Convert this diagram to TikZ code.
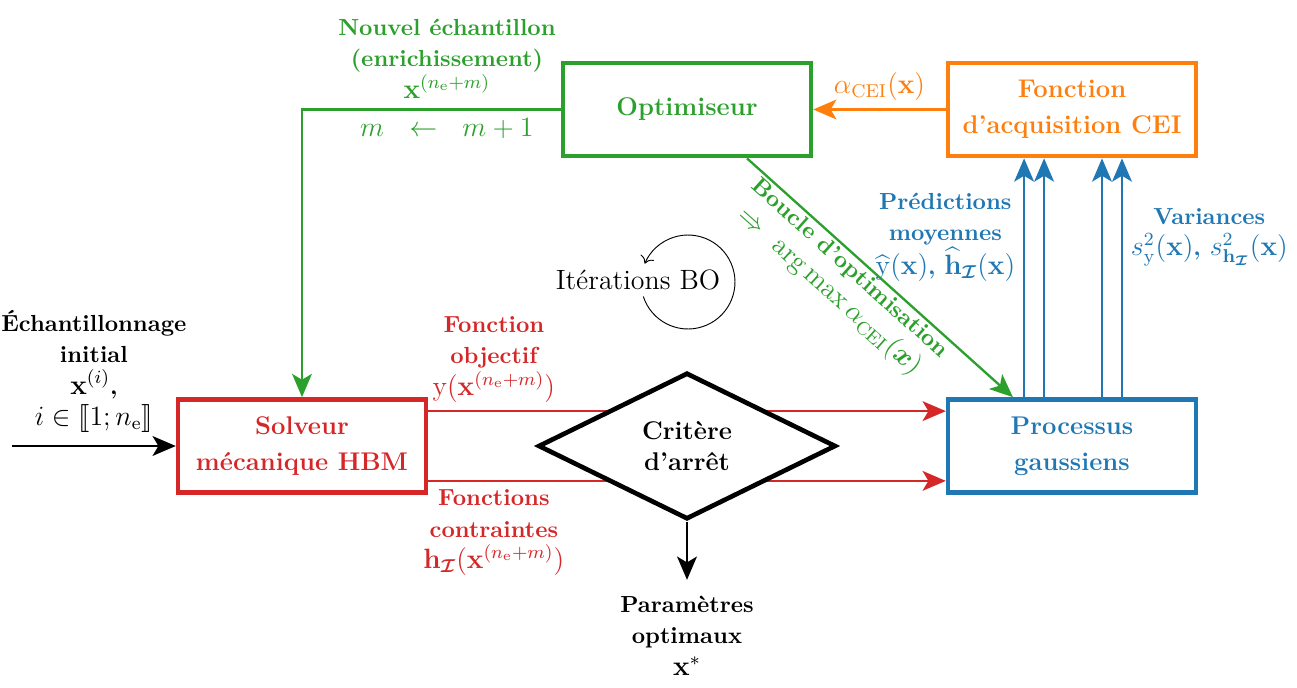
\documentclass[tikz,border=0pt]{standalone}
\usepackage{amsmath,amssymb}
\usepackage{stmaryrd}
\usepackage{tikz}
\usetikzlibrary{arrows.meta,shapes.geometric}

\definecolor{cvert}{HTML}{2CA02C}
\definecolor{corange}{HTML}{FF7F0E}
\definecolor{cbleu}{HTML}{1F77B4}
\definecolor{crouge}{HTML}{D62728}
\newcommand{\mgrand}[1]{{\fontsize{11.5}{14}\selectfont$#1$}}

\begin{document}
\begin{tikzpicture}[x=0.43pt,y=-0.43pt]
	\tikzset{every node/.style={align=center}}
	\tikzset{bloc/.style={draw=#1,text=#1,line width=2pt,fill=white,minimum width=106.5pt,minimum height=40pt,font=\fontsize{11}{15.5}\selectfont\bfseries}}
	\tikzset{fleche/.style={line width=1pt,-{Stealth[length=10pt,width=8.5pt,inset=2.5pt]}}}
	\tikzset{etiq/.style={font=\fontsize{10}{13.5}\selectfont\bfseries}}
	%\tikzset{every node/.style={draw=red}}
	\useasboundingbox (0,0) rectangle (1297,688);
	% blocs
	\node[bloc=cvert] (optim) at (687,109.5) {Optimiseur};
	\node[bloc=corange] (cei) at (1072,109.5) {Fonction\\d'acquisition CEI};
	\node[bloc=crouge] (solv) at (302,446) {Solveur\\mécanique HBM};
	\node[bloc=cbleu] (proc) at (1072,446) {Processus\\gaussiens};
	% sorties du solveur
	\draw[fleche,crouge] ([yshift=15pt]solv.east) -- ([yshift=15pt]proc.west) node[pos=0.127,above,etiq]{Fonction\\objectif\\\mgrand{\mathrm{y}(\mathbf{x}^{(n_{\mathrm{e}}+m)})}};
	\draw[fleche,crouge] ([yshift=-15pt]solv.east) -- ([yshift=-15pt]proc.west) node[pos=0.127,below,etiq]{Fonctions\\contraintes\\\mgrand{\mathbf{h}_{\boldsymbol{\mathcal{I}}}(\mathbf{x}^{(n_{\mathrm{e}}+m)})}};
	\node[draw,diamond,aspect=2,line width=2pt,fill=white,minimum width=128pt,minimum height=63pt,font=\fontsize{11}{13.6}\selectfont\bfseries] (arret) at (687,446) {Critère\\d'arrêt};
	\node[etiq,anchor=north] (param) at (687,588) {Paramètres\\optimaux\\\mgrand{\mathbf{x}^*}};
	\draw[fleche,shorten >=3.5pt] (arret.south) -- (param.north);
	% entree
	\coordinate (entree) at (12,446);
	\draw[fleche] (entree) -- (solv.west) node[midway,above=2pt,etiq]{Échantillonnage\\initial\\\mgrand{\mathbf{x}^{(i)}},\\\mgrand{i\in\llbracket 1;n_{\mathrm{e}}\rrbracket}};
	% enrichissement
	\draw[fleche,cvert] (optim.west) -- (solv.north |- optim.west) node[pos=0.44,above=1pt,etiq]{Nouvel échantillon\\(enrichissement)\\\mgrand{\mathbf{x}^{(n_{\mathrm{e}}+m)}}} node[pos=0.44,below]{\mgrand{m~~\leftarrow~~m+1}} -- (solv.north);
	\draw[fleche,corange] (cei.west) -- (optim.east) node[midway,above]{\mgrand{\alpha_{\mathrm{CEI}}(\mathbf{x})}};
	\draw[fleche,cvert] ([xshift=25.8pt]optim.south) -- ([xshift=-25.4pt]proc.north) node[pos=0.42,sloped,below,etiq,inner sep=1pt]{Boucle d'optimisation\\\mgrand{\Rightarrow\ \arg\max\alpha_{\mathrm{CEI}}(\boldsymbol{x})}};
	% predictions et variances
	\draw[fleche,cbleu] ([xshift=-20.6pt]proc.north) -- ([xshift=-20.6pt]cei.south) node[pos=0.67,left,etiq]{Prédictions\\moyennes\\\mgrand{\widehat{\mathrm{y}}(\mathbf{x})}, \mgrand{\widehat{\mathbf{h}}_{\boldsymbol{\mathcal{I}}}(\mathbf{x})}};
	\draw[fleche,cbleu] ([xshift=-12pt]proc.north) -- ([xshift=-12pt]cei.south);
	\draw[fleche,cbleu] ([xshift=12.9pt]proc.north) -- ([xshift=12.9pt]cei.south);
	\draw[fleche,cbleu] ([xshift=21.5pt]proc.north) -- ([xshift=21.5pt]cei.south) node[pos=0.67,right,etiq]{Variances\\\mgrand{s^2_{\mathrm{y}}(\mathbf{x})}, \mgrand{s^2_{\mathbf{h}_{\boldsymbol{\mathcal{I}}}}(\mathbf{x})}};
	% iterations
	\node[font=\large] (iter) at (638,280) {Itérations BO};
	\coordinate (boucle) at (688,282);
	\draw[-{To[length=3pt]}] ([shift={(198:20.2pt)}]boucle) arc[start angle=198,end angle=517,radius=20.2pt];
\end{tikzpicture}
\end{document}
